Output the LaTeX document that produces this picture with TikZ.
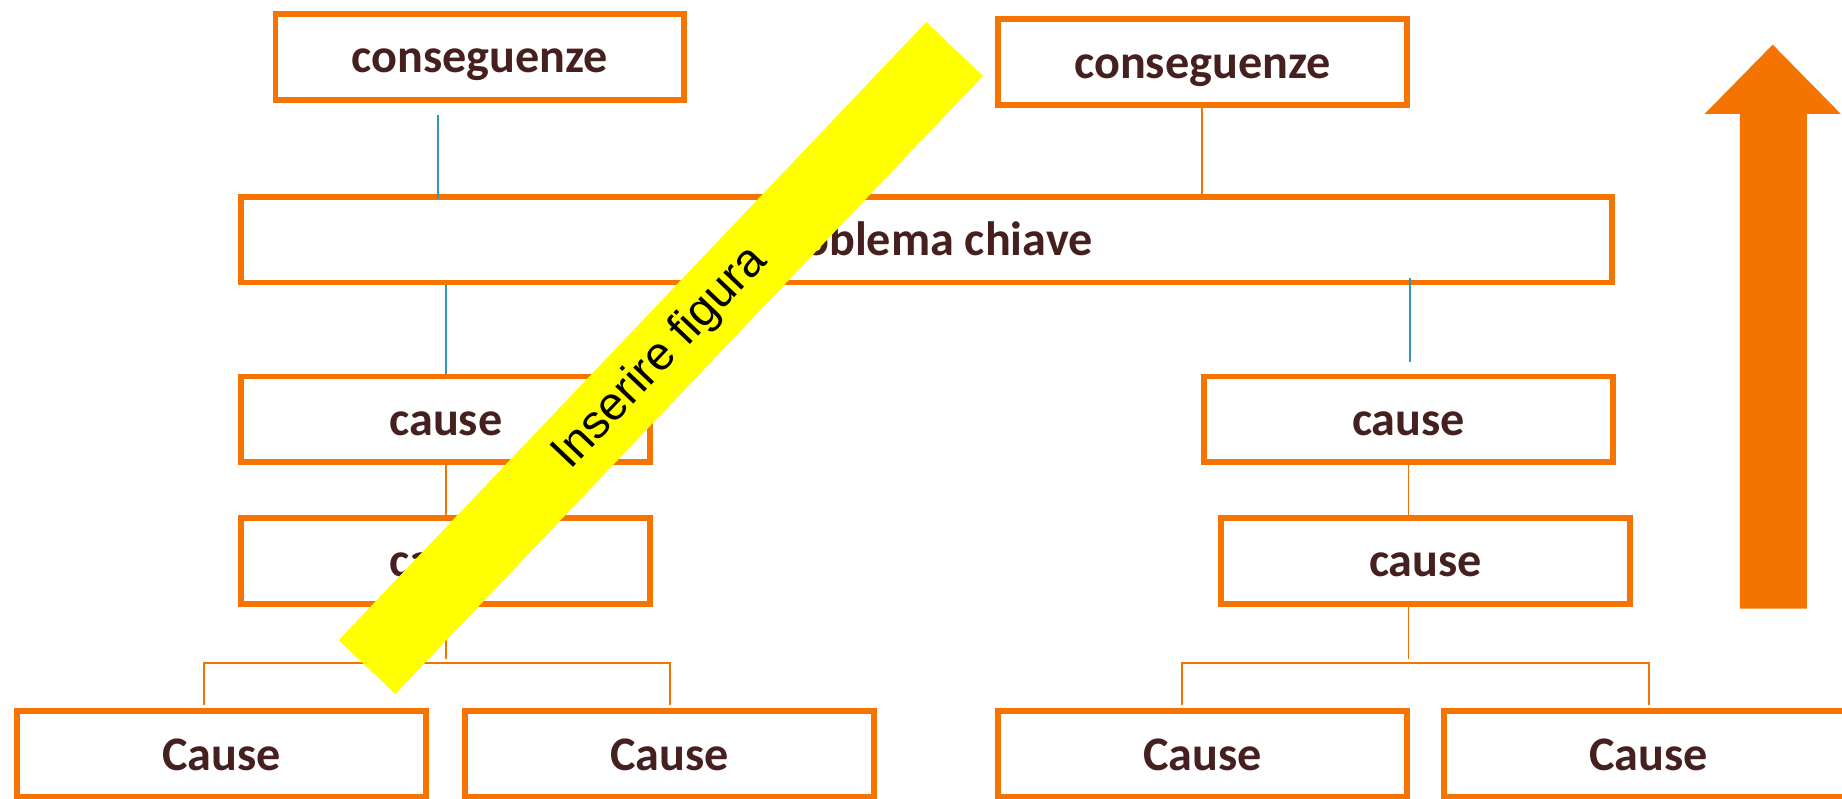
\documentclass[tikz,border=0pt]{standalone}
\usepackage{fontspec}
\setmainfont{Carlito}
\newfontfamily\bandfont{Liberation Sans}
\usetikzlibrary{calc}
\definecolor{boxorange}{HTML}{F57300}
\definecolor{txtbrown}{HTML}{45201F}
\definecolor{tealline}{HTML}{3396B5}
\definecolor{bandyellow}{HTML}{FFFF00}
\tikzset{
  cbox/.style={draw=boxorange, line width=5pt, fill=white, minimum width=348pt, minimum height=73pt,
    inner sep=0pt, text height=35pt, text depth=8pt, text=txtbrown, font=\fontsize{41}{49}\selectfont\bfseries},
  oline/.style={draw=boxorange, line width=1.6pt},
  tline/.style={draw=tealline, line width=2pt},
}
\begin{document}
\begin{tikzpicture}[x=1pt,y=-1pt]
\useasboundingbox (0,0) rectangle (1568,680);
\clip (0,0) rectangle (1568,680);
% boxes
\node[cbox] (C1) at (408.5,48.5) {conseguenze};
\node[cbox] (C2) at (1023.5,53) {conseguenze};
\node[cbox, minimum width=1167pt] (P) at (789,204) {Problema chiave};
\node[cbox] (LC1) at (379.5,357) {cause};
\node[cbox] (LC2) at (379.5,477.5) {cause};
\node[cbox] (RC1) at (1199,357) {cause};
\node[cbox] (RC2) at (1213.5,477.5) {cause};
\node[cbox] (LB1) at (188.5,642) {Cause};
\node[cbox] (LB2) at (570,642) {Cause};
\node[cbox] (RB1) at (1023.5,642) {Cause};
\node[cbox] (RB2) at (1403.5,642) {Cause};
% connectors
\draw[tline] ($(C1.south)+(-35.5,10.5)$) -- ($(P.north)+(-416,4.5)$);
\draw[tline] (LC1.north |- P.south) -- (LC1.north);
\draw[oline] (C2.south) -- (C2.south |- P.north);
\draw[tline] ($(RC1.north |- P.south)+(1,-6)$) -- ($(RC1.north)+(1,-10)$);
\draw[oline] (LC1.south) -- (LC2.north);
\draw[oline] (LC2.south) -- ++(0,44.5);
\draw[oline] ($(LB1.north)+(-14.5,-2.5)$) -- ++(0,-36) -| ($(LB2.north)+(0,-2.5)$);
\draw[oline] (RC1.south) -- (RC1.south |- RC2.north);
\draw[oline] (RC1.south |- RC2.south) -- ++(0,44.5);
\draw[oline] ($(RB1.north)+(-17.5,-2.5)$) -- ++(0,-36) -| ($(RB2.north)+(0,-2.5)$);
% yellow band
\node[fill=bandyellow, rotate=46.45, minimum width=726pt, minimum height=66.5pt, inner sep=0pt,
  font=\bandfont\fontsize{40}{48}\selectfont] (band) at (562.5,304.75) {Inserire figura};
% big arrow
\fill[boxorange] (1481,518) -- (1481,97) -- (1451,97) -- (1509,38) -- (1567,97) -- (1538,97) -- (1538,518) -- cycle;
\end{tikzpicture}
\end{document}
